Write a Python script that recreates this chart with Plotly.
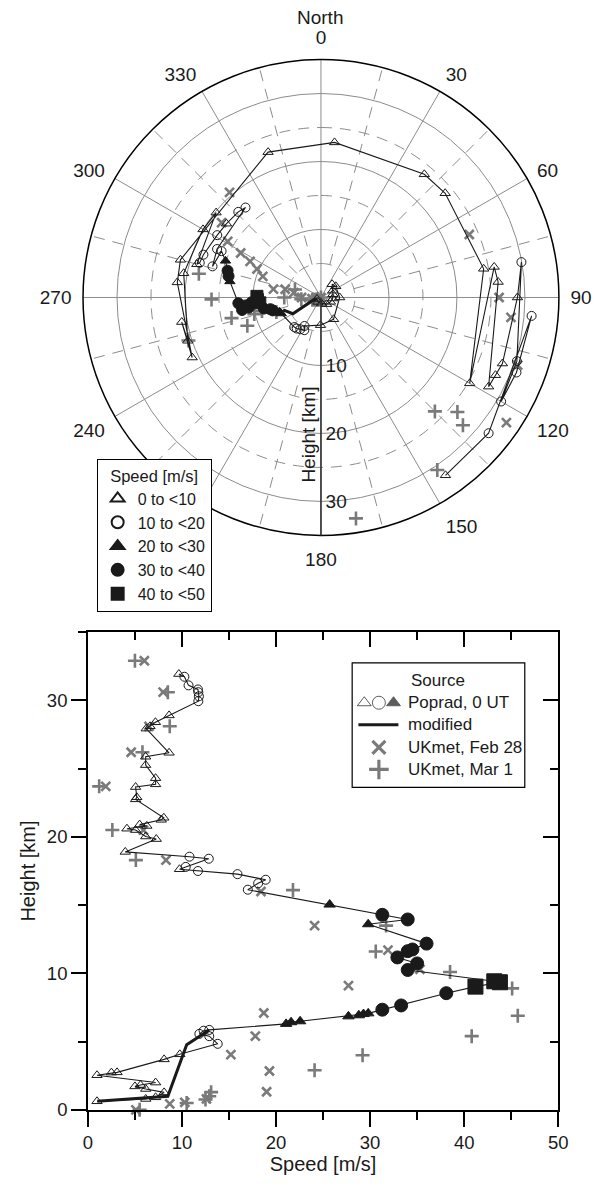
import plotly.graph_objects as go

W, H = 605, 1188
FONT = "Liberation Sans, Arial, Helvetica, sans-serif"
INK = "#1a1a1a"
GRAYMK = "#7a7a7a"
GRID = "#8c8c8c"

# ---------------- data ----------------
# Poprad radiosonde, 0 UT: height [km], speed [m/s], direction [deg]
pop_height = [0.63, 0.80, 0.92, 1.28, 1.53, 1.72, 1.82, 2.00, 2.54, 2.73, 2.75, 3.70, 4.07,
              4.84, 5.40, 5.57, 5.80, 5.86,
              6.30, 6.42, 6.49, 6.85, 6.93, 7.02, 7.07, 7.34, 7.65, 8.55, 9.03, 9.35, 9.42,
              10.25, 10.73, 11.17, 11.63, 11.75, 12.18, 13.60, 13.95, 14.29, 15.04,
              16.13, 16.60, 16.86, 17.27, 17.50, 17.63, 17.80, 18.40, 18.55, 18.90,
              19.84, 20.03, 20.50, 20.60, 20.80, 20.90, 21.25, 21.40, 22.75, 22.90,
              23.65, 23.85, 24.30, 25.26, 25.87, 26.16, 27.93, 28.10, 28.40, 28.90,
              29.94, 30.30, 30.60, 30.80, 31.10, 31.73, 31.93]
pop_speed = [0.97, 6.15, 7.2, 8.1, 6.15, 5.0, 5.6, 7.2, 0.97, 2.5, 3.1, 8.1, 9.77,
             13.8, 12.9, 11.85, 12.3, 12.9,
             21.07, 21.6, 22.56, 27.7, 28.8, 29.3, 29.8, 31.3, 33.3, 38.1, 41.2, 43.8, 43.2,
             34.0, 35.0, 32.9, 34.0, 34.5, 36.0, 29.8, 34.0, 31.3, 25.7,
             17.0, 18.1, 18.9, 15.9, 11.7, 9.74, 10.4, 12.85, 10.8, 3.97,
             7.27, 6.15, 5.07, 4.15, 6.27, 5.5, 7.8, 8.07, 5.07, 5.2,
             5.07, 7.2, 7.2, 6.14, 6.14, 8.63, 6.2, 6.6, 7.18, 8.63,
             11.74, 11.8, 11.74, 11.7, 10.7, 10.26, 9.67]
pop_dir = [250, 215, 175, 140, 115, 95, 75, 60, 40, 53, 90, 150, 181,
           210, 207, 213, 218, 222,
           248, 250, 251, 252, 253, 253, 254, 255, 257, 259, 265, 268, 271,
           266, 262, 264, 263, 261, 266, 280, 283, 286, 291,
           295, 286, 295, 320, 316, 308, 301, 290, 286, 285,
           309, 300, 280, 252, 260, 245, 276, 285, 340, 5,
           40, 50, 80, 120, 80, 85, 118, 114, 110, 90,
           80, 108, 120, 111, 95, 129, 145]

# modified lower profile
mod_height = [0.63, 1.00, 4.77, 5.86]
mod_speed = [1.0, 8.5, 10.5, 12.9]
mod_dir = [250, 255, 240, 252]

# UKmet, Feb 28
feb_height = [0.00, 0.44, 0.55, 0.80, 1.33, 2.85, 4.05, 5.40, 7.10, 9.10, 10.30, 11.70,
              13.50, 16.00, 18.30, 20.50, 23.70, 26.20, 28.10, 30.60, 32.90]
feb_speed = [5.1, 8.7, 10.3, 12.6, 19.0, 19.3, 15.2, 17.8, 18.7, 27.7, 35.3, 31.9,
             24.1, 18.4, 8.3, 5.9, 1.9, 4.6, 6.5, 8.0, 6.0]
feb_dir = [260, 250, 255, 258, 262, 270, 280, 283, 280, 290, 294, 297,
           299, 301, 307, 319, 67, 90, 96, 109, 124]

# UKmet, Mar 1
mar_height = [0.00, 0.50, 0.76, 1.00, 1.30, 2.90, 4.00, 5.40, 6.90, 8.90, 10.10, 11.60,
              13.50, 16.10, 18.30, 20.50, 23.70, 26.20, 28.10, 30.60, 32.90]
mar_speed = [5.5, 10.5, 12.5, 12.9, 13.1, 24.1, 29.2, 40.8, 45.7, 45.1, 38.5, 30.6,
             31.7, 21.8, 5.1, 2.6, 1.2, 5.8, 8.7, 8.5, 5.0]
mar_dir = [250, 245, 248, 250, 255, 265, 287, 270, 252, 257, 256, 249,
           257, 269, 281, 252, 135, 130, 132, 146, 171]

cat_names = ["0 to <10", "10 to <20", "20 to <30", "30 to <40", "40 to <50"]
cat_step = 10
angle_ticks = list(range(0, 360, 30))
radial_ticks = [10, 20, 30]
radial_minor = [5, 15, 25]

# ---------------- styles ----------------
cat_symbols = ["triangle-up-open", "circle-open", "triangle-up", "circle", "square"]
polar_sizes = [9, 9, 9, 11, 12]
cart_sizes = [9, 9, 10, 13, 15]


def cat_of(s):
    return min(int(s // cat_step), len(cat_names) - 1)


cats = [cat_of(s) for s in pop_speed]

fig = go.Figure()

# ---- polar extra grid (dashed circles and dashed spokes) ----
R_MAX = 35
circle_theta = list(range(0, 361, 2))
for rv in radial_minor:
    fig.add_trace(go.Scatterpolar(r=[rv] * len(circle_theta), theta=circle_theta, mode="lines",
                                  line=dict(color=GRID, width=1, dash="11px,8px"),
                                  showlegend=False, hoverinfo="skip", subplot="polar"))
for a in angle_ticks:
    fig.add_trace(go.Scatterpolar(r=[5, R_MAX], theta=[a + 15, a + 15], mode="lines",
                                  line=dict(color=GRID, width=1, dash="11px,8px"),
                                  showlegend=False, hoverinfo="skip", subplot="polar"))

# UKmet in polar
fig.add_trace(go.Scatterpolar(r=feb_height, theta=feb_dir, mode="markers",
                              marker=dict(symbol="x-thin", size=9, line=dict(color=GRAYMK, width=2.6)),
                              showlegend=False, hoverinfo="skip", subplot="polar"))
fig.add_trace(go.Scatterpolar(r=mar_height, theta=mar_dir, mode="markers",
                              marker=dict(symbol="cross-thin", size=10, line=dict(color=GRAYMK, width=2.6)),
                              showlegend=False, hoverinfo="skip", subplot="polar"))
# Poprad line + modified
fig.add_trace(go.Scatterpolar(r=pop_height, theta=pop_dir, mode="lines",
                              line=dict(color=INK, width=1.1), showlegend=False,
                              hoverinfo="skip", subplot="polar"))
fig.add_trace(go.Scatterpolar(r=mod_height, theta=mod_dir, mode="lines",
                              line=dict(color=INK, width=3), showlegend=False,
                              hoverinfo="skip", subplot="polar"))
# Poprad markers by speed class (legend)
for k, name in enumerate(cat_names):
    rr = [h for h, c in zip(pop_height, cats) if c == k]
    tt = [d for d, c in zip(pop_dir, cats) if c == k]
    fig.add_trace(go.Scatterpolar(r=rr, theta=tt, mode="markers", name=name,
                                  marker=dict(symbol=cat_symbols[k], size=polar_sizes[k], color=INK,
                                              line=dict(color=INK, width=1)),
                                  subplot="polar", legend="legend"))

# ---- bottom cartesian ----
fig.add_trace(go.Scatter(x=feb_speed, y=feb_height, mode="markers",
                         marker=dict(symbol="x-thin", size=9, line=dict(color=GRAYMK, width=2.6)),
                         showlegend=False, hoverinfo="skip", cliponaxis=False))
fig.add_trace(go.Scatter(x=mar_speed, y=mar_height, mode="markers",
                         marker=dict(symbol="cross-thin", size=10, line=dict(color=GRAYMK, width=2.6)),
                         showlegend=False, hoverinfo="skip", cliponaxis=False))
fig.add_trace(go.Scatter(x=pop_speed, y=pop_height, mode="lines",
                         line=dict(color=INK, width=1.1), showlegend=False, hoverinfo="skip"))
fig.add_trace(go.Scatter(x=mod_speed, y=mod_height, mode="lines",
                         line=dict(color=INK, width=3), showlegend=False, hoverinfo="skip"))
for k in range(len(cat_names)):
    xs = [s for s, c in zip(pop_speed, cats) if c == k]
    ys = [h for h, c in zip(pop_height, cats) if c == k]
    fig.add_trace(go.Scatter(x=xs, y=ys, mode="markers",
                             marker=dict(symbol=cat_symbols[k], size=cart_sizes[k], color=INK,
                                         line=dict(color=INK, width=1)),
                             showlegend=False, hoverinfo="skip", cliponaxis=False))
# dummy trace so the mirrored (inside-tick) axes are drawn
fig.add_trace(go.Scatter(x=[None], y=[None], xaxis="x2", yaxis="y2", showlegend=False, hoverinfo="skip"))

# ---- manual "Source" legend for the bottom panel (pixel-space overlay axis) ----
LG = dict(x0=356, x1=533, y0=668.6, y1=794, sym_x=383.4, txt_x=411,
          rows=[686, 708.7, 731, 753.7, 776])
glyph = dict(xaxis="x3", yaxis="y3", showlegend=False, hoverinfo="skip", cliponaxis=False)
r1 = LG["rows"]
fig.add_trace(go.Scatter(x=[LG["sym_x"] - 15, LG["sym_x"], LG["sym_x"] + 15], y=[r1[1]] * 3, mode="markers",
                         marker=dict(symbol=["triangle-up-open", "circle-open", "triangle-up"], size=[12, 13, 12],
                                     color=INK, line=dict(color=INK, width=1)), **glyph))
fig.add_trace(go.Scatter(x=[LG["sym_x"] - 21, LG["sym_x"] + 20], y=[r1[2]] * 2, mode="lines",
                         line=dict(color=INK, width=3), **glyph))
fig.add_trace(go.Scatter(x=[LG["sym_x"]], y=[r1[3]], mode="markers",
                         marker=dict(symbol="x-thin", size=13, line=dict(color=GRAYMK, width=3.2)), **glyph))
fig.add_trace(go.Scatter(x=[LG["sym_x"]], y=[r1[4]], mode="markers",
                         marker=dict(symbol="cross-thin", size=14, line=dict(color=GRAYMK, width=3.2)), **glyph))


def px(x):
    return x / W


def py(y):
    return 1 - y / H


ann = []
lf = dict(family=FONT, size=17, color=INK)
P = dict(xref="paper", yref="paper", showarrow=False)
ann.append(dict(x=px((LG["x0"] + LG["x1"]) / 2), y=py(r1[0]), text="Source",
                xanchor="center", yanchor="middle", font=lf, **P))
for yy, tx in zip(r1[1:], ["Poprad, 0 UT", "modified", "UKmet, Feb 28", "UKmet, Mar 1"]):
    ann.append(dict(x=px(LG["txt_x"]), y=py(yy), text=tx,
                    xanchor="left", yanchor="middle", font=lf, **P))
# polar labels
ann.append(dict(x=px(323), y=py(18), text="North", xanchor="center", yanchor="middle",
                font=dict(family=FONT, size=19, color=INK), **P))
ann.append(dict(x=px(311), y=py(438), text="Height [km]", textangle=-90,
                xanchor="center", yanchor="middle", font=dict(family=FONT, size=19, color=INK), **P))

axis_common = dict(showgrid=False, zeroline=False, showline=True, linecolor="black", linewidth=1.5,
                   tickcolor="black", tickwidth=1.5, tickfont=dict(family=FONT, size=18.5, color=INK))
minor_out = dict(dtick=5, tick0=0, ticks="outside", ticklen=8, tickwidth=1.5, tickcolor="black", showgrid=False)
minor_in = dict(dtick=5, tick0=0, ticks="inside", ticklen=8, tickwidth=1.5, tickcolor="black", showgrid=False)

fig.update_layout(
    width=W, height=H, autosize=False,
    margin=dict(l=0, r=0, t=0, b=0),
    paper_bgcolor="white", plot_bgcolor="rgba(0,0,0,0)",
    font=dict(family=FONT, color=INK),
    polar=dict(
        domain=dict(x=[px(80), px(568)], y=[py(544), py(56)]),
        bgcolor="white",
        angularaxis=dict(rotation=90, direction="clockwise", tickmode="array",
                         tickvals=angle_ticks, ticktext=[str(a) for a in angle_ticks],
                         showline=True, linecolor="black", linewidth=1.5,
                         showgrid=True, gridcolor=GRID, gridwidth=1,
                         ticks="outside", ticklen=7, tickcolor="rgba(0,0,0,0)",
                         tickfont=dict(family=FONT, size=19, color=INK)),
        radialaxis=dict(range=[0, R_MAX], tickmode="array", tickvals=radial_ticks,
                        angle=270, side="counterclockwise", tickangle=-90,
                        showline=True, linecolor="#333333", linewidth=1.6,
                        showgrid=True, gridcolor=GRID, gridwidth=1, ticks="",
                        tickfont=dict(family=FONT, size=19, color=INK)),
    ),
    legend=dict(x=px(94), y=py(463), xanchor="left", yanchor="top", bgcolor="white",
                bordercolor="black", borderwidth=1, itemsizing="constant",
                font=dict(family=FONT, size=16, color=INK),
                title=dict(text="Speed [m/s]", side="top center", font=dict(family=FONT, size=16.5, color=INK))),
    xaxis=dict(domain=[px(85), px(567.3)], range=[0, 50], tickmode="linear", tick0=0, dtick=10,
               ticks="outside", ticklen=15, minor=minor_out,
               title=dict(text="Speed [m/s]", standoff=4, font=dict(family=FONT, size=20, color=INK)),
               anchor="y", **axis_common),
    yaxis=dict(domain=[py(1119.3), py(637.5)], range=[0, 35], tickmode="linear", tick0=0, dtick=10,
               ticks="outside", ticklen=15, minor=minor_out,
               title=dict(text="Height [km]", standoff=6, font=dict(family=FONT, size=20, color=INK)),
               anchor="x", **axis_common),
    xaxis2=dict(overlaying="x", side="top", range=[0, 50], anchor="y2", tickmode="linear", tick0=0, dtick=10,
                ticks="inside", ticklen=15, showticklabels=False, minor=minor_in, **axis_common),
    yaxis2=dict(overlaying="y", side="right", range=[0, 35], anchor="x2", tickmode="linear", tick0=0, dtick=10,
                ticks="inside", ticklen=15, showticklabels=False, minor=minor_in, **axis_common),
    xaxis3=dict(domain=[0, 1], range=[0, W], visible=False, fixedrange=True, anchor="y3"),
    yaxis3=dict(domain=[0, 1], range=[H, 0], visible=False, fixedrange=True, anchor="x3"),
    shapes=[dict(type="rect", xref="paper", yref="paper", x0=px(LG["x0"]), x1=px(LG["x1"]),
                 y0=py(LG["y1"]), y1=py(LG["y0"]), line=dict(color="black", width=1.2), layer="below")],
    annotations=ann,
)

fig.write_html("out.html")
